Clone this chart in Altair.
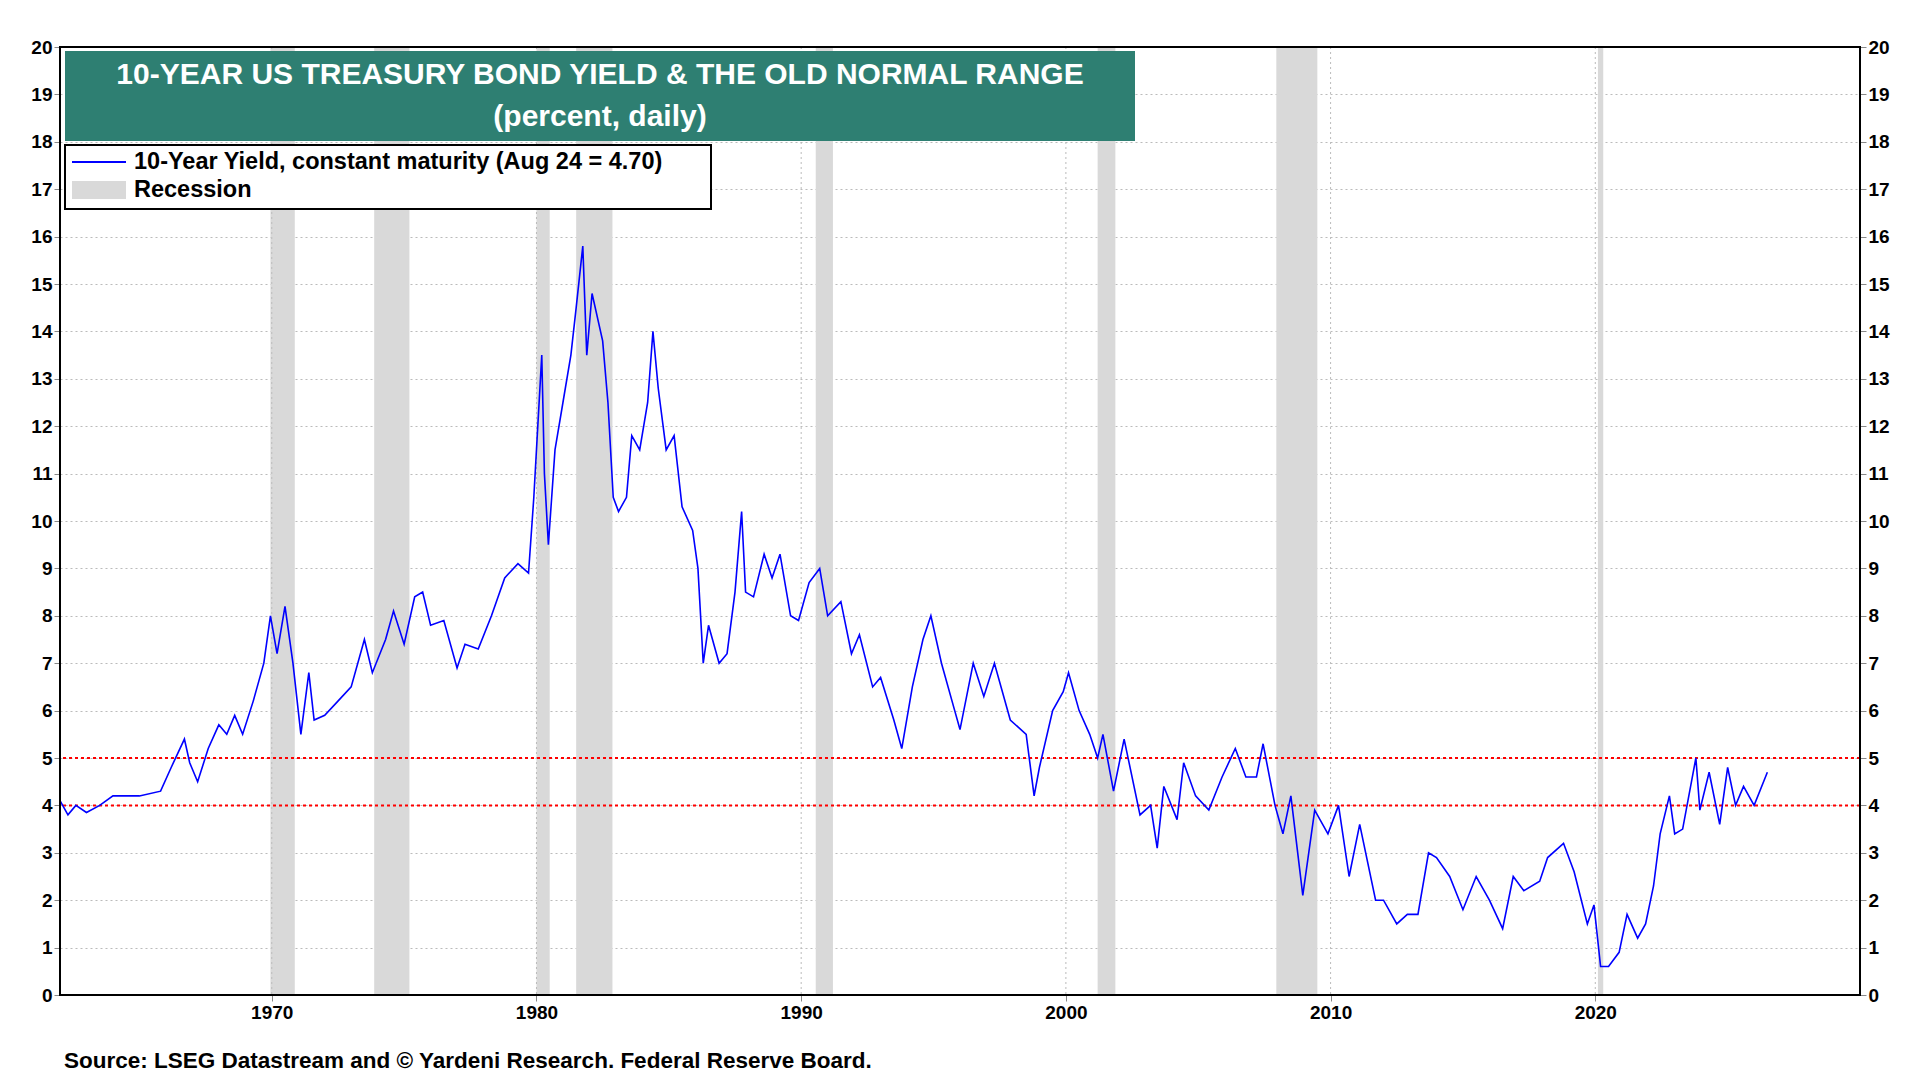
import altair as alt
import pandas as pd

years = [1962.0,1962.3,1962.6,1963.0,1963.5,1964.0,1965.0,1965.8,1966.2,1966.7,1966.9,1967.2,1967.6,1968.0,1968.3,1968.6,1968.9,1969.3,1969.7,1969.95,1970.2,1970.5,1970.8,1971.1,1971.4,1971.6,1972.0,1972.5,1973.0,1973.5,1973.8,1974.3,1974.6,1975.0,1975.4,1975.7,1976.0,1976.5,1977.0,1977.3,1977.8,1978.3,1978.8,1979.3,1979.7,1979.9,1980.2,1980.3,1980.45,1980.7,1981.0,1981.3,1981.5,1981.75,1981.9,1982.1,1982.5,1982.7,1982.9,1983.1,1983.4,1983.6,1983.9,1984.2,1984.4,1984.6,1984.9,1985.2,1985.5,1985.9,1986.1,1986.3,1986.5,1986.9,1987.2,1987.5,1987.75,1987.9,1988.2,1988.6,1988.9,1989.2,1989.6,1989.9,1990.3,1990.7,1991.0,1991.5,1991.9,1992.2,1992.7,1993.0,1993.5,1993.8,1994.2,1994.6,1994.9,1995.3,1995.8,1996.0,1996.5,1996.9,1997.3,1997.9,1998.5,1998.8,1999.0,1999.5,1999.9,2000.1,2000.5,2000.9,2001.2,2001.4,2001.8,2002.2,2002.8,2003.2,2003.45,2003.7,2004.2,2004.45,2004.9,2005.4,2005.9,2006.4,2006.8,2007.2,2007.45,2007.9,2008.2,2008.5,2008.95,2009.4,2009.9,2010.3,2010.7,2011.1,2011.7,2012.0,2012.5,2012.9,2013.3,2013.7,2014.0,2014.5,2015.0,2015.5,2016.0,2016.5,2016.9,2017.3,2017.9,2018.2,2018.8,2019.2,2019.7,2019.95,2020.2,2020.5,2020.9,2021.2,2021.6,2021.9,2022.2,2022.45,2022.8,2023.0,2023.3,2023.8,2023.95,2024.3,2024.7,2025.0,2025.3,2025.6,2026.0,2026.5]
yields = [4.1,3.8,4.0,3.85,4.0,4.2,4.2,4.3,4.8,5.4,4.9,4.5,5.2,5.7,5.5,5.9,5.5,6.2,7.0,8.0,7.2,8.2,7.0,5.5,6.8,5.8,5.9,6.2,6.5,7.5,6.8,7.5,8.1,7.4,8.4,8.5,7.8,7.9,6.9,7.4,7.3,8.0,8.8,9.1,8.9,10.5,13.5,11.0,9.5,11.5,12.5,13.5,14.5,15.8,13.5,14.8,13.8,12.5,10.5,10.2,10.5,11.8,11.5,12.5,14.0,12.8,11.5,11.8,10.3,9.8,9.0,7.0,7.8,7.0,7.2,8.5,10.2,8.5,8.4,9.3,8.8,9.3,8.0,7.9,8.7,9.0,8.0,8.3,7.2,7.6,6.5,6.7,5.8,5.2,6.5,7.5,8.0,7.0,6.0,5.6,7.0,6.3,7.0,5.8,5.5,4.2,4.8,6.0,6.4,6.8,6.0,5.5,5.0,5.5,4.3,5.4,3.8,4.0,3.1,4.4,3.7,4.9,4.2,3.9,4.6,5.2,4.6,4.6,5.3,4.0,3.4,4.2,2.1,3.9,3.4,4.0,2.5,3.6,2.0,2.0,1.5,1.7,1.7,3.0,2.9,2.5,1.8,2.5,2.0,1.4,2.5,2.2,2.4,2.9,3.2,2.6,1.5,1.9,0.6,0.6,0.9,1.7,1.2,1.5,2.3,3.4,4.2,3.4,3.5,5.0,3.9,4.7,3.6,4.8,4.0,4.4,4.0,4.7]

rec_start = [1969.95,1973.87,1980.0,1981.5,1990.55,2001.2,2007.95,2020.1]
rec_end = [1970.87,1975.2,1980.5,1982.87,1991.2,2001.87,2009.5,2020.3]
old_normal = [4, 5]
x_ticks = [1970,1980,1990,2000,2010,2020]

W, H = 1800, 948
FONT = "Liberation Sans"

df = pd.DataFrame({"year": years, "y": yields})
rec = pd.DataFrame({"s": rec_start, "e": rec_end})
ref = pd.DataFrame({"v": old_normal})
xg = pd.DataFrame({"x": x_ticks})

xs = alt.Scale(domain=[1962, 2030], nice=False, zero=False)
ys = alt.Scale(domain=[0, 20], nice=False)

xaxis = alt.Axis(values=x_ticks, format="d", grid=False, title=None, labelFontSize=19,
                 labelFontWeight="bold", labelFont=FONT, tickSize=6, domain=False, labelColor="black")

rect = alt.Chart(rec).mark_rect(color="#d9d9d9").encode(
    x=alt.X("s:Q", scale=xs, axis=xaxis), x2="e:Q")

vgrid = alt.Chart(xg).mark_rule(color="#bbbbbb", strokeDash=[2, 3]).encode(x=alt.X("x:Q", scale=xs))

refl = alt.Chart(ref).mark_rule(color="red", strokeDash=[3, 3], strokeWidth=2).encode(
    y=alt.Y("v:Q", scale=ys, axis=None))

line = alt.Chart(df).mark_line(color="#0000ff", strokeWidth=1.6).encode(
    x=alt.X("year:Q", scale=xs),
    y=alt.Y("y:Q", scale=ys, axis=alt.Axis(values=list(range(0, 21)), title=None, orient="left",
            labelFontSize=19, labelFontWeight="bold", labelFont=FONT, grid=True, gridColor="#bbbbbb",
            gridDash=[2, 3], domain=False, tickSize=6, labelColor="black")))

right = alt.Chart(df).mark_line(opacity=0).encode(
    x=alt.X("year:Q", scale=xs),
    y=alt.Y("y:Q", scale=ys, axis=alt.Axis(values=list(range(0, 21)), title=None, orient="right",
            labelFontSize=19, labelFontWeight="bold", labelFont=FONT, grid=False, domain=False,
            tickSize=6, labelColor="black")))

one = pd.DataFrame({"a": [0]})
frame = alt.Chart(one).mark_rect(fill=None, stroke="black", strokeWidth=2).encode(
    x=alt.value(0), x2=alt.value(W), y=alt.value(0), y2=alt.value(H))

tbox = alt.Chart(one).mark_rect(color="#2e7f72").encode(
    x=alt.value(5), x2=alt.value(1075), y=alt.value(4), y2=alt.value(94))
t1 = alt.Chart(one).mark_text(color="white", fontSize=30, fontWeight="bold", font=FONT).encode(
    x=alt.value(540), y=alt.value(28), text=alt.value("10-YEAR US TREASURY BOND YIELD & THE OLD NORMAL RANGE"))
t2 = alt.Chart(one).mark_text(color="white", fontSize=30, fontWeight="bold", font=FONT).encode(
    x=alt.value(540), y=alt.value(70), text=alt.value("(percent, daily)"))

lbox = alt.Chart(one).mark_rect(fill="white", stroke="black", strokeWidth=2).encode(
    x=alt.value(5), x2=alt.value(651), y=alt.value(98), y2=alt.value(162))
lline = alt.Chart(one).mark_rule(color="#0000ff", strokeWidth=2).encode(
    x=alt.value(12), x2=alt.value(66), y=alt.value(115))
lrec = alt.Chart(one).mark_rect(color="#d9d9d9").encode(
    x=alt.value(12), x2=alt.value(66), y=alt.value(134), y2=alt.value(152))
lt1 = alt.Chart(one).mark_text(align="left", fontSize=23.5, fontWeight="bold", font=FONT).encode(
    x=alt.value(74), y=alt.value(115), text=alt.value("10-Year Yield, constant maturity (Aug 24 = 4.70)"))
lt2 = alt.Chart(one).mark_text(align="left", fontSize=23.5, fontWeight="bold", font=FONT).encode(
    x=alt.value(74), y=alt.value(143), text=alt.value("Recession"))
src = alt.Chart(one).mark_text(align="left", fontSize=22.5, fontWeight="bold", font=FONT).encode(
    x=alt.value(4), y=alt.value(H + 66),
    text=alt.value("Source: LSEG Datastream and © Yardeni Research. Federal Reserve Board."))

chart = alt.layer(rect, vgrid, refl, line, right, frame, tbox, t1, t2, lbox, lline, lrec, lt1, lt2, src
                  ).resolve_scale(y="independent").properties(
                      width=W, height=H, padding={"left": 22, "top": 30, "right": 5, "bottom": 5}
                  ).configure_view(stroke=None).configure(background="white")

chart.save("out.html", embed_options={"renderer": "svg", "actions": False})
